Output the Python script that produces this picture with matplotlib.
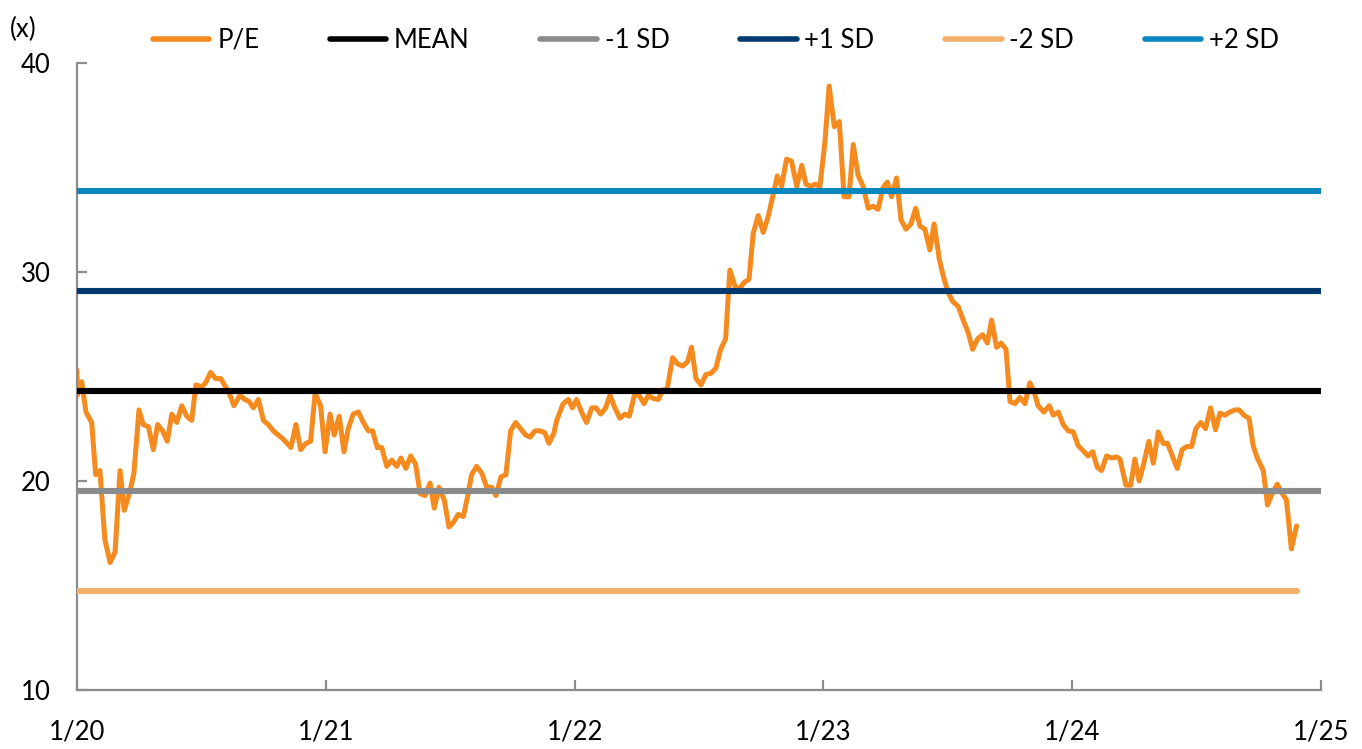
import matplotlib
matplotlib.use("Agg")
import matplotlib.pyplot as plt
from matplotlib.lines import Line2D

plt.rcParams['font.family'] = ['Lato', 'DejaVu Sans']

# Data: decimal year offsets (from Jan 2020) and P/E values
pe_t = [0.000, 0.001, 0.019, 0.036, 0.059, 0.075, 0.092, 0.112, 0.133, 0.153,
        0.173, 0.190, 0.213, 0.229, 0.249, 0.266, 0.287, 0.307, 0.324, 0.344,
        0.363, 0.381, 0.401, 0.421, 0.441, 0.461, 0.478, 0.501, 0.517, 0.537,
        0.557, 0.578, 0.598, 0.615, 0.631, 0.655, 0.675, 0.692, 0.709, 0.729,
        0.749, 0.769, 0.789, 0.809, 0.829, 0.860, 0.880, 0.899, 0.920, 0.939,
        0.957, 0.979, 0.997, 1.017, 1.034, 1.054, 1.073, 1.090, 1.110, 1.131,
        1.151, 1.171, 1.188, 1.207, 1.225, 1.245, 1.265, 1.285, 1.302, 1.322,
        1.341, 1.361, 1.379, 1.399, 1.419, 1.436, 1.455, 1.476, 1.495, 1.512,
        1.532, 1.553, 1.569, 1.586, 1.606, 1.626, 1.647, 1.667, 1.684, 1.704,
        1.724, 1.743, 1.763, 1.783, 1.803, 1.821, 1.841, 1.861, 1.881, 1.897,
        1.917, 1.928, 1.954, 1.975, 1.991, 2.008, 2.028, 2.048, 2.069, 2.086,
        2.105, 2.125, 2.142, 2.162, 2.182, 2.202, 2.220, 2.240, 2.259, 2.279,
        2.296, 2.316, 2.336, 2.354, 2.372, 2.394, 2.414, 2.434, 2.454, 2.470,
        2.488, 2.508, 2.528, 2.548, 2.568, 2.587, 2.607, 2.624, 2.645, 2.662,
        2.682, 2.701, 2.718, 2.738, 2.758, 2.778, 2.796, 2.815, 2.832, 2.852,
        2.872, 2.893, 2.913, 2.930, 2.950, 2.966, 2.986, 3.006, 3.023, 3.044,
        3.064, 3.083, 3.103, 3.120, 3.140, 3.160, 3.180, 3.200, 3.220, 3.240,
        3.257, 3.274, 3.294, 3.312, 3.332, 3.352, 3.371, 3.388, 3.408, 3.428,
        3.445, 3.466, 3.482, 3.499, 3.519, 3.542, 3.562, 3.582, 3.600, 3.620,
        3.640, 3.659, 3.676, 3.696, 3.714, 3.734, 3.750, 3.770, 3.790, 3.810,
        3.830, 3.846, 3.863, 3.886, 3.908, 3.924, 3.944, 3.964, 3.984, 4.004,
        4.024, 4.044, 4.064, 4.082, 4.101, 4.118, 4.138, 4.158, 4.179, 4.192,
        4.216, 4.235, 4.252, 4.269, 4.288, 4.308, 4.326, 4.346, 4.366, 4.383,
        4.404, 4.422, 4.442, 4.460, 4.480, 4.497, 4.517, 4.536, 4.556, 4.576,
        4.594, 4.614, 4.634, 4.654, 4.671, 4.690, 4.711, 4.727, 4.744, 4.768,
        4.785, 4.804, 4.824, 4.844, 4.861, 4.881, 4.902]
pe_v = [25.3, 24.1, 24.75, 23.3, 22.8, 20.3, 20.5, 17.2, 16.1, 16.6,
        20.5, 18.6, 19.5, 20.4, 23.4, 22.7, 22.6, 21.5, 22.7, 22.4,
        21.9, 23.2, 22.8, 23.6, 23.1, 22.9, 24.6, 24.5, 24.7, 25.2,
        24.9, 24.9, 24.5, 24.1, 23.6, 24.1, 23.9, 23.8, 23.5, 23.9,
        22.9, 22.7, 22.4, 22.2, 22.0, 21.6, 22.7, 21.5, 21.8, 21.9,
        24.2, 23.6, 21.4, 23.2, 22.2, 23.1, 21.4, 22.5, 23.2, 23.3,
        22.8, 22.4, 22.4, 21.6, 21.6, 20.7, 21.0, 20.7, 21.1, 20.6,
        21.2, 20.8, 19.4, 19.3, 19.9, 18.7, 19.7, 19.1, 17.8, 18.0,
        18.4, 18.3, 19.2, 20.3, 20.7, 20.4, 19.7, 19.7, 19.3, 20.2,
        20.3, 22.4, 22.8, 22.5, 22.2, 22.1, 22.4, 22.4, 22.3, 21.8,
        22.3, 22.9, 23.7, 23.9, 23.5, 23.9, 23.3, 22.8, 23.5, 23.5,
        23.2, 23.5, 24.1, 23.5, 23.0, 23.2, 23.1, 24.1, 24.1, 23.7,
        24.1, 23.95, 23.9, 24.35, 24.4, 25.9, 25.6, 25.5, 25.7, 26.4,
        24.9, 24.6, 25.1, 25.15, 25.4, 26.3, 26.8, 30.1, 29.3, 29.2,
        29.5, 29.65, 31.85, 32.7, 31.9, 32.65, 33.6, 34.6, 34.1, 35.4,
        35.3, 34.1, 35.1, 34.2, 34.1, 34.2, 34.1, 36.2, 38.9, 36.95,
        37.2, 33.6, 33.6, 36.1, 34.6, 34.1, 33.05, 33.15, 33.0, 34.05,
        34.3, 33.6, 34.5, 32.5, 32.05, 32.3, 33.05, 32.2, 32.05, 31.05,
        32.3, 30.6, 29.8, 29.1, 28.6, 28.35, 27.7, 27.1, 26.3, 26.8,
        27.0, 26.6, 27.7, 26.4, 26.6, 26.3, 23.8, 23.7, 24.0, 23.7,
        24.7, 24.3, 23.6, 23.3, 23.6, 23.15, 23.3, 22.7, 22.4, 22.35,
        21.7, 21.45, 21.2, 21.4, 20.65, 20.5, 21.2, 21.1, 21.15, 21.05,
        19.8, 19.8, 21.05, 20.0, 20.85, 21.9, 20.85, 22.35, 21.8, 21.8,
        21.15, 20.6, 21.5, 21.65, 21.65, 22.5, 22.8, 22.5, 23.5, 22.45,
        23.25, 23.15, 23.3, 23.4, 23.4, 23.15, 23.0, 21.7, 21.1, 20.5,
        18.85, 19.4, 19.85, 19.4, 19.1, 16.75, 17.85]

start_year = 2020
mean_val = 24.3
plus1_val = 29.09
plus2_val = 33.88
minus1_val = 19.51
minus2_val = 14.72

x_ticks = [0, 1, 2, 3, 4, 5]
x_labels = ['1/20', '1/21', '1/22', '1/23', '1/24', '1/25']
y_ticks = [10, 20, 30, 40]

c_pe = '#F58A1F'
c_mean = '#000000'
c_m1 = '#898B8D'
c_p1 = '#003A70'
c_m2 = '#F2B06B'
c_p2 = '#0A87BF'

fig = plt.figure(figsize=(13.62, 7.49), dpi=100)
ax = fig.add_axes([77/1362, 1-690/749, (1321-77)/1362, (690-63)/749])

t = [start_year + v for v in pe_t]
x0, x1 = start_year + x_ticks[0], start_year + x_ticks[-1]

lw_h = 4.4
ax.plot(t, pe_v, color=c_pe, lw=3.6, zorder=2, solid_joinstyle='round', solid_capstyle='round')
ax.plot([x0, x1], [mean_val]*2, color=c_mean, lw=lw_h, zorder=3, solid_capstyle='butt')
ax.plot([x0, x1], [minus1_val]*2, color=c_m1, lw=lw_h, zorder=3, solid_capstyle='butt')
ax.plot([x0, x1], [plus1_val]*2, color=c_p1, lw=lw_h, zorder=3, solid_capstyle='butt')
ax.plot([x0, t[-1]], [minus2_val]*2, color=c_m2, lw=lw_h, zorder=3, solid_capstyle='round')
ax.plot([x0, x1], [plus2_val]*2, color=c_p2, lw=lw_h, zorder=3, solid_capstyle='butt')

ax.set_xlim(x0, x1)
ax.set_ylim(10, 40)
ax.set_xticks([start_year + v for v in x_ticks])
ax.set_xticklabels(x_labels)
ax.set_yticks(y_ticks)

for s in ['top', 'right']:
    ax.spines[s].set_visible(False)
for s in ['left', 'bottom']:
    ax.spines[s].set_color('#8C8C8C')
    ax.spines[s].set_linewidth(1.6)
ax.tick_params(axis='both', direction='in', length=7, width=1.6, color='#8C8C8C',
               labelsize=18.5, labelcolor='black')
ax.tick_params(axis='y', pad=19)
ax.tick_params(axis='x', pad=21)

fig.text(10/1362, 1-29/749, '(x)', fontsize=18.5, va='center', ha='left')

handles = [Line2D([], [], color=c, lw=4.0, solid_capstyle='round') for c in
           [c_pe, c_mean, c_m1, c_p1, c_m2, c_p2]]
labels = ['P/E', 'MEAN', '-1 SD', '+1 SD', '-2 SD', '+2 SD']
fig.legend(handles, labels, loc='center', bbox_to_anchor=(716/1362, 1-40/749), ncol=6,
           frameon=False, fontsize=18.5, handlelength=2.2, handletextpad=0.3,
           columnspacing=2.75, borderpad=0, borderaxespad=0)

fig.savefig('out.png', dpi=100)
